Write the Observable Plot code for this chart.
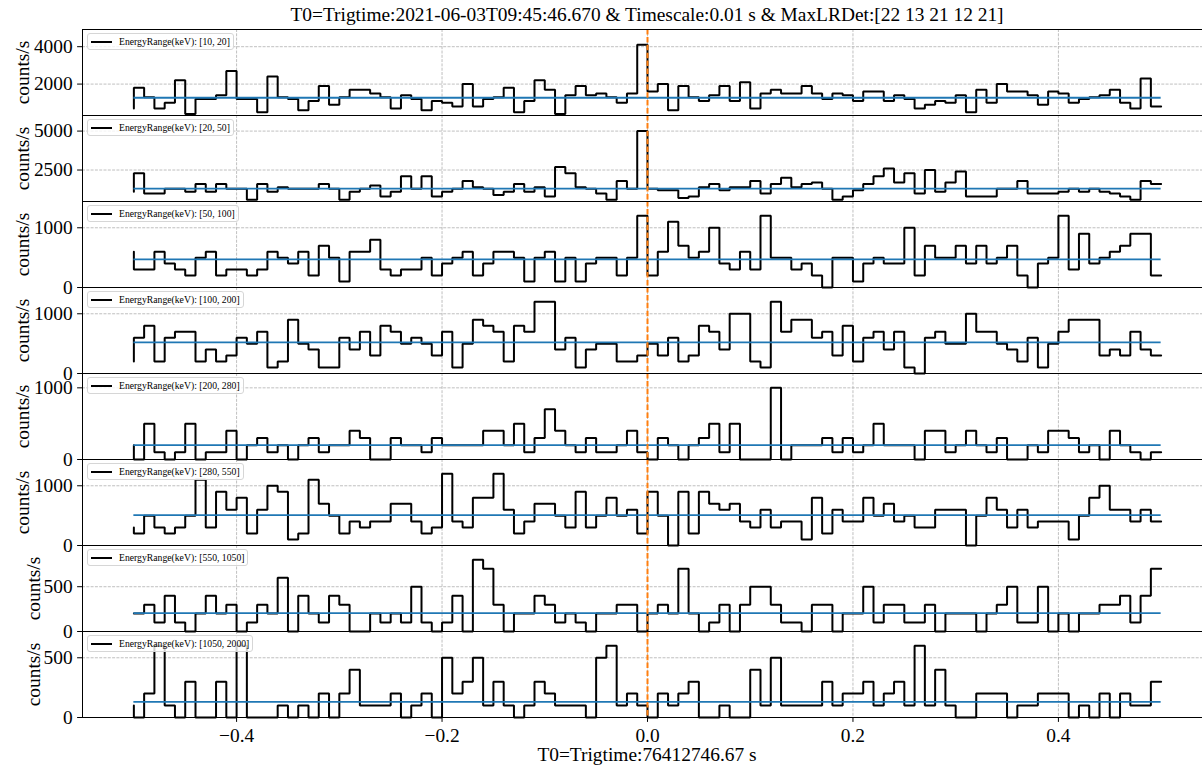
<!DOCTYPE html>
<html><head><meta charset="utf-8">
<script src="https://cdn.jsdelivr.net/npm/d3@7"></script>
<script src="https://cdn.jsdelivr.net/npm/@observablehq/plot@0.6"></script>
<style>
body{margin:0;background:#fff;}
#fig{position:relative;width:1202px;height:767px;overflow:hidden;background:#fff;font-family:"Liberation Serif","Times New Roman",serif;color:#000;}
.pan{position:absolute;left:0;}
.txt{position:absolute;left:0;width:1294px;text-align:center;font-size:19.4px;line-height:19.4px;white-space:nowrap;}
.leg{position:absolute;height:17px;box-sizing:border-box;border:1px solid #d6d6d6;border-radius:3px;background:rgba(255,255,255,0.8);display:flex;align-items:center;padding:0 3px 0 3.5px;font-size:9.7px;white-space:nowrap;}
.ln{display:inline-block;width:21px;height:2px;background:#000;margin-right:7px;}
</style></head><body><div id="fig"></div>
<script>
const titleText = "T0=Trigtime:2021-06-03T09:45:46.670 & Timescale:0.01 s & MaxLRDet:[22 13 21 12 21]";
const xLabel = "T0=Trigtime:76412746.67 s";
const yLabel = "counts/s";
const timescale = 0.01;
const tStart = -0.5;
const xTicks = [-0.4, -0.2, 0, 0.2, 0.4];

const energyLabels = ["[10, 20]", "[20, 50]", "[50, 100]", "[100, 200]", "[200, 280]", "[280, 550]", "[550, 1050]", "[1050, 2000]"];
const yTicks = [[2000, 4000], [2500, 5000], [0, 1000], [0, 1000], [0, 1000], [0, 1000], [0, 500], [0, 500]];
const bgLevels = [1270, 1300, 470, 520, 200, 510, 205, 130];

// first value = start point, then one value per 0.01 s bin
const rate10_20 = [700,
 1800,1300,700,1000,2200,400,1200,1200,1400,2700, 1200,1200,500,2400,1300,1200,600,1100,1900,900,
 1300,1700,1700,1500,1300,700,1400,1200,600,1100, 1000,800,2000,800,1200,1300,1800,500,1100,2200,
 1700,400,1400,1900,1400,1500,1300,1000,1500,4100,
 1600,2000,600,1900,1300,1100,1400,1900,1100,2100, 700,1500,1700,1500,1500,1900,1500,1200,1500,1400,
 1100,1600,1600,1100,1400,1200,700,900,1100,1000, 1400,500,1700,1000,2000,1600,1600,1400,900,1600,
 1500,1000,1200,1300,1400,1700,1000,700,2300,800];
const rate20_50 = [1100,
 2300,1000,1000,1300,1300,1100,1600,1100,1600,1300, 1300,600,1600,1100,1400,1300,1300,1300,1600,1300,
 600,1100,1300,1500,800,1100,2100,1300,2100,800, 1100,1300,1800,1400,1300,900,1100,1600,1100,1400,
 800,2700,2300,1400,1300,1000,600,1800,1300,5000,
 1300,1200,1200,700,800,1400,1600,1200,1400,1400, 1800,1000,1600,2000,1400,1600,1700,1300,600,800,
 1200,1600,2100,2600,1700,2300,1000,2500,1100,1700, 2400,800,800,800,1300,1300,1800,1000,1000,1000,
 1100,1300,1100,1300,1100,1000,800,600,1800,1600];
const rate50_100 = [600,
 300,300,600,400,300,200,500,600,200,300, 300,200,300,600,500,400,600,200,700,500,
 100,600,600,800,300,200,300,300,500,200, 400,500,600,200,400,600,600,500,100,500,
 600,100,500,100,400,500,500,200,500,1200,
 200,600,1100,700,500,600,1000,400,300,600, 300,1200,500,500,300,400,200,0,500,500,
 100,400,500,400,400,1000,200,700,500,500, 700,400,700,400,500,700,200,0,400,500,
 1200,300,900,400,500,600,700,900,900,200];
const rate100_200 = [200,
 600,800,200,600,700,700,200,400,200,300, 600,500,700,100,200,900,500,400,100,100,
 600,400,700,300,800,700,500,600,500,300, 700,100,500,900,800,700,200,800,700,1200,
 1200,400,600,100,400,500,500,200,200,300,
 500,300,600,200,300,800,700,400,1000,1000, 200,100,1200,700,900,900,600,700,300,800,
 200,600,700,400,700,100,0,600,700,500, 500,1000,700,700,500,400,200,600,100,500,
 700,900,900,900,300,400,300,700,400,300];
const rate200_280 = [200,
 0,500,100,0,100,500,0,100,100,400, 0,200,300,100,200,0,200,300,100,200,
 200,400,300,0,0,300,200,200,100,300, 200,200,200,200,400,400,200,500,100,300,
 700,400,200,100,300,100,100,200,400,100,
 0,300,200,0,200,300,500,100,500,0, 0,0,1000,0,200,200,200,300,100,300,
 100,200,500,200,200,200,0,400,400,100, 200,400,200,100,300,0,0,200,100,400,
 400,300,100,200,0,400,200,100,0,100];
const rate280_550 = [300,
 200,500,300,200,300,500,1100,300,900,600, 800,200,600,1000,900,100,200,1100,700,500,
 200,400,300,400,400,700,700,400,200,300, 1200,400,300,800,800,1200,600,200,400,700,
 700,500,300,900,300,500,800,500,600,200,
 900,500,0,900,200,900,700,600,700,400, 300,600,300,400,400,100,800,200,600,400,
 400,800,500,700,400,500,300,300,600,600, 600,0,500,800,600,300,600,300,400,400,
 400,100,500,800,1000,600,600,400,600,400];
const rate550_1050 = [200,
 200,300,100,400,100,0,200,400,200,300, 0,100,300,200,600,0,400,200,100,400,
 300,0,0,200,100,200,100,500,100,0, 100,400,0,800,700,300,0,200,200,400,
 300,100,200,100,0,200,200,300,300,0,
 200,300,200,700,200,0,100,300,0,300, 500,500,300,100,100,0,300,300,0,200,
 200,500,100,300,300,100,100,300,0,200, 200,200,0,200,300,500,100,100,500,0,
 200,0,200,200,300,300,400,100,400,700];
const rate1050_2000 = [100,
 0,200,600,100,0,300,0,0,300,0, 600,0,0,0,100,0,100,0,200,0,
 200,400,100,100,100,200,0,100,200,0, 500,200,300,500,100,300,100,0,100,300,
 200,100,100,100,0,500,600,100,200,100,
 0,200,100,200,300,0,0,100,0,0, 400,100,500,100,100,100,100,300,100,200,
 200,300,100,200,300,100,600,100,400,100, 0,0,200,200,200,0,100,100,200,200,
 200,0,100,0,200,0,200,100,100,300];

const series = [rate10_20, rate20_50, rate50_100, rate100_200, rate200_280, rate280_550, rate550_1050, rate1050_2000];

const fig = document.getElementById("fig");
const FONT = "Liberation Serif, Times New Roman, serif";
const W = 1212, ML = 82, PH = 86, MT = 14, TOP0 = 15;
const fmtX = d => (d < 0 ? "\u2212" : "") + Math.abs(d).toFixed(1);

series.forEach((vals, i) => {
  const last = i === series.length - 1;
  const data = vals.map((v, k) => ({t: +(tStart + k * timescale).toFixed(2), v}));
  const lo = d3.min(vals) * 0.8, hi = d3.max(vals) * 1.2;
  const mb = last ? 40 : 14;
  const ticks = yTicks[i];
  const labelCenter = String(ticks[1]).length >= 4 ? 22.5 : 32.8;
  const chart = Plot.plot({
    width: W, height: PH + MT + mb,
    marginLeft: ML, marginRight: 0, marginTop: MT, marginBottom: mb,
    style: {background: "transparent", fontFamily: FONT, fontSize: "19.4px", overflow: "visible", maxWidth: "none"},
    x: {domain: [-0.55, 0.55], ticks: xTicks, tickFormat: fmtX, tickSize: 4.9, tickPadding: 6, label: null, axis: last ? "bottom" : null},
    y: {domain: [lo, hi], ticks: ticks, tickFormat: d => String(d), tickSize: 4.9, tickPadding: 4.9, label: null},
    marks: [
      Plot.gridX(xTicks, {stroke: "#b0b0b0", strokeOpacity: 1, strokeWidth: 0.8, strokeDasharray: "3,1.3"}),
      Plot.gridY(ticks, {stroke: "#b0b0b0", strokeOpacity: 1, strokeWidth: 0.8, strokeDasharray: "3,1.3"}),
      Plot.line(data, {x: "t", y: "v", curve: "step-before", stroke: "#000", strokeWidth: 2, strokeLinejoin: "miter"}),
      Plot.ruleY([bgLevels[i]], {x1: tStart, x2: -tStart, stroke: "#1f77b4", strokeWidth: 1.8}),
      Plot.ruleX([0], {stroke: "#ff7f0e", strokeWidth: 2, strokeDasharray: "5.5,2.4"}),
      Plot.frame({stroke: "#000", strokeWidth: 1}),
      Plot.text([yLabel], {text: d => d, frameAnchor: "left", dx: labelCenter - ML, rotate: -90, textAnchor: "middle", lineAnchor: "middle", fontSize: 19.4, fontFamily: FONT, fill: "#000"})
    ]
  });
  chart.classList.add("pan");
  chart.style.top = (TOP0 + i * PH) + "px";
  fig.appendChild(chart);
});

series.forEach((vals, i) => {
  const leg = document.createElement("div");
  leg.className = "leg";
  leg.style.left = "86.5px";
  leg.style.top = (TOP0 + MT + i * PH + 4) + "px";
  leg.innerHTML = '<span class="ln"></span><span></span>';
  leg.lastChild.textContent = "EnergyRange(keV): " + energyLabels[i];
  fig.appendChild(leg);
});

const t = document.createElement("div");
t.className = "txt"; t.style.top = "5px"; t.textContent = titleText;
fig.appendChild(t);
const xl = document.createElement("div");
xl.className = "txt"; xl.style.top = "745px"; xl.textContent = xLabel;
fig.appendChild(xl);
</script></body></html>
